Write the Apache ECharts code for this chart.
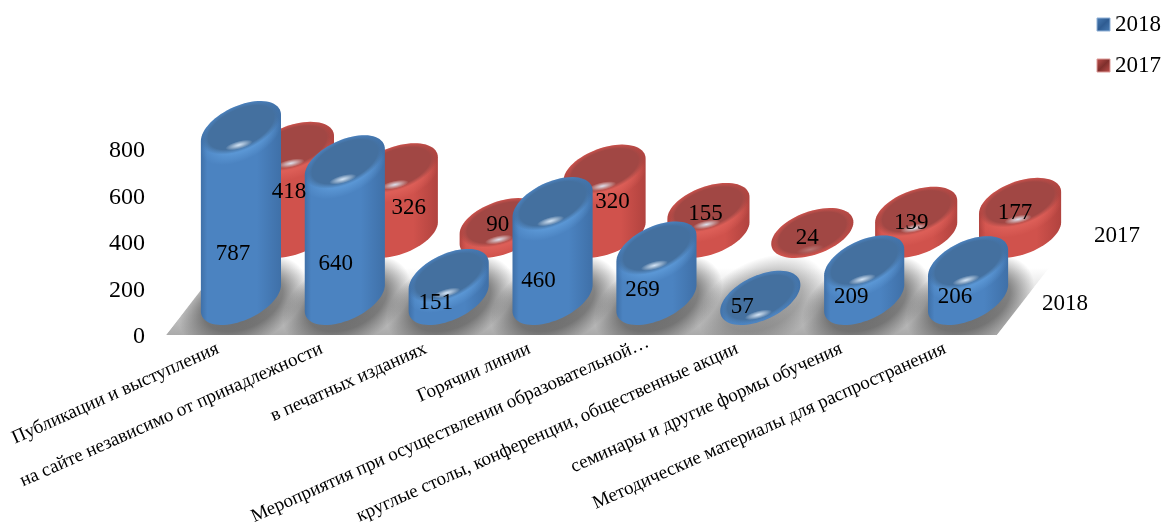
<!DOCTYPE html>
<html><head><meta charset="utf-8">
<style>html,body{margin:0;padding:0;background:#fff}#c{width:1164px;height:526px}</style>
<script src="https://cdn.jsdelivr.net/npm/echarts@6/dist/echarts.min.js"></script>
</head><body><div id="c"></div>
<script>
const categories = ['Публикации и выступления','на сайте независимо от принадлежности','в печатных изданиях','Горячии линии','Мероприятия при осуществлении образовательной…','круглые столы, конференции, общественные акции','семинары и другие формы обучения','Методические материалы для распространения'];
const values2018 = [787,640,151,460,269,57,209,206];
const values2017 = [418,326,90,320,155,24,139,177];
const depthNames = ['2018','2017'];
const yTicks = {min:0,max:800,interval:200};
// hand placement of the value labels relative to each cylinder's base, as in the source chart
const nudge2018 = [[-8,-44],[-9,-34],[-13,5],[-14,-17],[-14,-8],[-18,9],[-13,-1],[-13,-1]];
const nudge2017 = [[-4,-41],[12,-25],[-3,-8],[8,-31],[-3,-19],[-5,5],[-5,-10],[-5,-20]];

const FONT = '"Liberation Serif","Times New Roman",serif';
const PAL = {
  '2018':{edge:'#3f70a8',mid:'#4b83c1',cap:'#44709f',rim:'#5a96d4',icon:'#4a7db5',iconD:'#2f5c92',shift:[23,-37],a:43,b:22,rot:25*Math.PI/180,nudge:nudge2018,lift:13},
  '2017':{edge:'#b1433f',mid:'#d0524c',cap:'#a14744',rim:'#dc5e57',icon:'#c0504d',iconD:'#7f2f2c',shift:[75,-102],a:43,b:21.5,rot:20*Math.PI/180,nudge:nudge2017,lift:11}
};
function ell(cx,cy,a,b,r,t){return [cx+a*Math.cos(t)*Math.cos(r)+b*Math.sin(t)*Math.sin(r), cy-a*Math.cos(t)*Math.sin(r)+b*Math.sin(t)*Math.cos(r)];}
function hGrad(stops){return {type:'linear',x:0,y:0,x2:1,y2:0,colorStops:stops.map(s=>({offset:s[0],color:s[1]}))};}
function fade(color,from){return {type:'radial',x:0.5,y:0.5,r:0.5,colorStops:[{offset:0,color:color},{offset:from,color:color},{offset:1,color:color+'00'}]};}
function oval(cx,cy,a,b,r,fill,extra){return {type:'circle',x:cx,y:cy,rotation:r,scaleY:b/a,shape:{cx:0,cy:0,r:a},style:Object.assign({fill},extra||{})};}
function cylinder(year){
  const P=PAL[year];
  return function(params,api){
    const i=api.value(0),v=api.value(1);
    const o=api.coord([i,0]),c=api.coord([i,v]);
    const cx=o[0]+P.shift[0],by=o[1]+P.shift[1];
    const h=Math.max(0,(o[1]-c[1])-P.lift);
    const ty=by-h;
    const t0=Math.atan2(P.b*Math.sin(P.rot),P.a*Math.cos(P.rot));
    const pts=[];
    for(let k=0;k<=36;k++)pts.push(ell(cx,by,P.a,P.b,P.rot,t0+k/36*Math.PI));
    for(let k=0;k<=36;k++)pts.push(ell(cx,ty,P.a,P.b,P.rot,t0+Math.PI+k/36*Math.PI));
    const bev=Math.min(h,10);
    const children=[
      {type:'polygon',shape:{points:pts},style:{fill:hGrad([[0,P.edge],[0.08,P.mid],[0.7,P.mid],[1,P.edge]])}},
      oval(cx,ty+bev,P.a,P.b,P.rot,fade(P.rim,0.6)),
      oval(cx,ty-0.5,P.a,P.b,P.rot,fade(P.cap,0.82)),
      oval(cx-2,ty+P.b-5,14,4,P.rot*0.6,{type:'radial',x:0.5,y:0.5,r:0.5,colorStops:[{offset:0,color:v<50?'rgba(255,255,255,0.25)':'rgba(225,240,255,0.9)'},{offset:1,color:'rgba(255,255,255,0)'}]})
    ];
    return {type:'group',children};
  };
}
function labels(year){
  const P=PAL[year];
  return function(params,api){
    const i=api.value(0),v=api.value(1),o=api.coord([i,0]);
    return {type:'text',style:{text:String(v),x:o[0]+P.shift[0]+P.nudge[i][0],y:o[1]+P.shift[1]+P.nudge[i][1],align:'center',verticalAlign:'middle',fill:'#000',font:'23px '+FONT}};
  };
}
function floor(params,api){
  const cs=params.coordSys,x0=cs.x,x1=cs.x+cs.width,y0=cs.y+cs.height,dx=52,dy=67;
  const kids=[{type:'polygon',shape:{points:[[x0,y0],[x1,y0],[x1+dx,y0-dy],[x0+dx,y0-dy]]},
    style:{fill:{type:'linear',x:0,y:0,x2:0,y2:1,colorStops:[{offset:0,color:'#ffffff'},{offset:0.45,color:'#d8d8d8'},{offset:1,color:'#aaaaaa'}]}}}];
  const step=cs.width/categories.length;
  categories.forEach((_,i)=>{
    const ox=x0+step*(i+0.5)+PAL['2018'].shift[0],oy=y0+PAL['2018'].shift[1];
    const k=values2018[i]<100?0.55:1;
    kids.push({type:'circle',x:ox+2,y:oy+4,rotation:25*Math.PI/180,scaleY:0.62,shape:{cx:0,cy:0,r:68},
      style:{fill:{type:'radial',x:0.5,y:0.5,r:0.5,colorStops:[{offset:0,color:'rgba(80,80,80,'+0.8*k+')'},{offset:0.62,color:'rgba(80,80,80,'+0.65*k+')'},{offset:1,color:'rgba(80,80,80,0)'}]}}});
  });
  // keep the soft shadows on the floor plane
  kids.push({type:'polygon',shape:{points:[[x0-40,y0],[x1+120,y0],[x1+120,y0+60],[x0-40,y0+60]]},style:{fill:'#fff'}});
  kids.push({type:'polygon',shape:{points:[[x0,y0],[x0+dx,y0-dy],[x0-40,y0-dy],[x0-40,y0]]},style:{fill:'#fff'}});
  kids.push({type:'polygon',shape:{points:[[x1,y0],[x1+dx,y0-dy],[x1+120,y0-dy],[x1+120,y0]]},style:{fill:'#fff'}});
  return {type:'group',children:kids};
}
function depthText(params,api){
  const i=params.dataIndex,o=api.coord([categories.length-1,0]);
  const P=PAL[depthNames[i]];
  return {type:'text',style:{text:depthNames[i],x:o[0]+P.shift[0]+97,y:o[1]+P.shift[1]+(i===0?6:3),align:'center',verticalAlign:'middle',fill:'#000',font:'23px '+FONT}};
}
function pairs(a){return a.map((v,i)=>[i,v]);}
const chart=echarts.init(document.getElementById('c'),null,{renderer:'canvas'});
function iconFill(P){return {type:'linear',x:0,y:0,x2:1,y2:1,colorStops:[{offset:0,color:P.icon},{offset:0.5,color:P.iconD},{offset:1,color:P.icon}]};}
chart.setOption({
  animation:false,backgroundColor:'#fff',tooltip:{show:false},
  grid:{left:166,top:149,width:831,height:186,containLabel:false,outerBoundsMode:'none'},
  legend:{orient:'vertical',right:3,top:13,padding:0,itemWidth:13,itemHeight:13,itemGap:18,icon:'rect',selectedMode:false,
    textStyle:{fontFamily:FONT,fontSize:23,color:'#000'},
    data:[{name:'2018',itemStyle:{color:iconFill(PAL['2018']),borderColor:'#8fb0d6',borderWidth:1}},
          {name:'2017',itemStyle:{color:iconFill(PAL['2017']),borderColor:'#dc9a98',borderWidth:1}}]},
  xAxis:{type:'category',z:10,axisLine:{show:false},axisTick:{show:false},splitLine:{show:false},
    data:categories.map((c,i)=>i===4?{value:c,textStyle:{padding:[0,-16,0,0]}}:c),
    axisLabel:{interval:0,rotate:24,margin:13,fontFamily:FONT,fontSize:19,color:'#000',hideOverlap:false}},
  yAxis:{type:'value',min:yTicks.min,max:yTicks.max,interval:yTicks.interval,z:10,axisLine:{show:false},axisTick:{show:false},splitLine:{show:false},
    axisLabel:{margin:21,fontFamily:FONT,fontSize:24,color:'#000',verticalAlign:'top',lineHeight:24,padding:[-10,0,0,0]}},
  series:[
    {type:'custom',name:'floor',silent:true,z:1,clip:false,renderItem:floor,data:[[0,0]],encode:{x:0,y:1}},
    {type:'custom',name:'2017',z:2,clip:false,itemStyle:{color:PAL['2017'].icon},renderItem:cylinder('2017'),data:pairs(values2017),encode:{x:0,y:1}},
    {type:'custom',name:'2018',z:3,clip:false,itemStyle:{color:PAL['2018'].icon},renderItem:cylinder('2018'),data:pairs(values2018),encode:{x:0,y:1}},
    {type:'custom',name:'lab2017',silent:true,z:5,clip:false,renderItem:labels('2017'),data:pairs(values2017),encode:{x:0,y:1}},
    {type:'custom',name:'lab2018',silent:true,z:5,clip:false,renderItem:labels('2018'),data:pairs(values2018),encode:{x:0,y:1}},
    {type:'custom',name:'depth',silent:true,z:5,clip:false,renderItem:depthText,data:[[0,0],[1,0]],encode:{x:0,y:1}}
  ]
});
</script></body></html>
